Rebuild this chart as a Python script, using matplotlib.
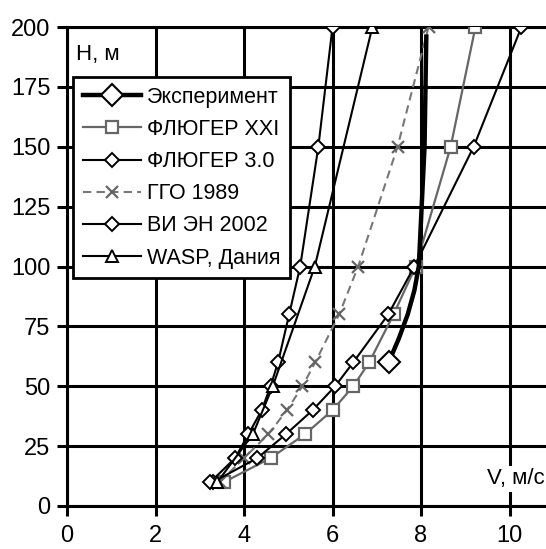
import numpy as np
import matplotlib
matplotlib.use("Agg")
import matplotlib.pyplot as plt

plt.rcParams['font.family'] = ['Liberation Sans', 'DejaVu Sans']

# ---------------------- data ----------------------------------------------#
h_exp = [60, 70, 80, 90, 100, 150, 196]
v_exp = [7.27, 7.5, 7.7, 7.85, 7.95, 8.08, 8.12]

h_std = [10, 20, 30, 40, 50, 60, 80, 100, 150, 200]
v_fl21 = [3.55, 4.6, 5.38, 6.0, 6.47, 6.83, 7.38, 7.88, 8.67, 9.23]
v_fl30 = [3.3, 4.3, 4.95, 5.55, 6.06, 6.47, 7.26, 7.85, 9.19, 10.27]
v_ggo = [3.45, 4.0, 4.55, 4.97, 5.32, 5.61, 6.15, 6.58, 7.47, 8.17]
v_vien = [3.24, 3.8, 4.1, 4.4, 4.6, 4.77, 5.02, 5.27, 5.68, 6.0]

h_wasp = [10, 30, 50, 100, 200]
v_wasp = [3.4, 4.2, 4.65, 5.6, 6.9]

x_ticks = [0, 2, 4, 6, 8, 10]
y_ticks = [0, 25, 50, 75, 100, 125, 150, 175, 200]

fig = plt.figure(figsize=(5.46, 5.49), dpi=100)
ax = fig.add_axes([67 / 546, 1 - 506 / 549, 479 / 546, 479 / 549])

ax.plot(v_exp, h_exp, color='black', lw=3.2, marker='D', ms=11, mfc='white',
        mec='black', mew=1.5, markevery=[0], label='Эксперимент', zorder=6)
ax.plot(v_fl21, h_std, color='#666666', lw=1.6, marker='s', ms=8, mfc='white',
        mec='#666666', mew=1.6, label='ФЛЮГЕР XXI', zorder=4)
ax.plot(v_fl30, h_std, color='black', lw=1.5, marker='D', ms=7, mfc='white',
        mec='black', mew=1.4, label='ФЛЮГЕР 3.0', zorder=5)
ax.plot(v_ggo, h_std, color='#777777', lw=1.5, ls=(0, (4, 2.5)), marker='x', ms=9,
        mec='#666666', mew=1.6, label='ГГО 1989', zorder=4)
ax.plot(v_vien, h_std, color='black', lw=1.5, marker='D', ms=7, mfc='white',
        mec='black', mew=1.4, label='ВИ ЭН 2002', zorder=5)
ax.plot(v_wasp, h_wasp, color='black', lw=1.5, marker='^', ms=9, mfc='white',
        mec='black', mew=1.4, label='WASP, Дания', zorder=5)

# axes, grid
ax.set_xlim(0, 479 / 44.25)
ax.set_ylim(0, 200)
ax.set_xticks(x_ticks)
ax.set_yticks(y_ticks)
ax.grid(True, color='black', lw=2.2, zorder=0)
ax.set_axisbelow(True)
for side in ['left', 'bottom', 'top']:
    ax.spines[side].set_linewidth(2.2)
ax.spines['right'].set_visible(False)
ax.tick_params(direction='out', length=7, width=2.2, labelsize=17, pad=7)
ax.tick_params(axis='y', pad=5)

ax.text(0.2, 193, 'H, м', fontsize=16, ha='left', va='top',
        bbox=dict(facecolor='white', edgecolor='none', pad=1), zorder=3)
ax.text(10.8, 7, 'V, м/с', fontsize=16, ha='right', va='bottom',
        bbox=dict(facecolor='white', edgecolor='none', pad=2), zorder=3)

leg = ax.legend(loc='upper left', bbox_to_anchor=((73 - 67) / 479, (506 - 77) / 479),
                borderaxespad=0, fontsize=15.5, handlelength=2.7, handletextpad=0.3,
                labelspacing=0.52, fancybox=False, framealpha=1, edgecolor='black',
                borderpad=0.45, numpoints=1)
leg.get_frame().set_linewidth(2.0)
leg.set_zorder(10)

plt.savefig('out.png', dpi=100)
